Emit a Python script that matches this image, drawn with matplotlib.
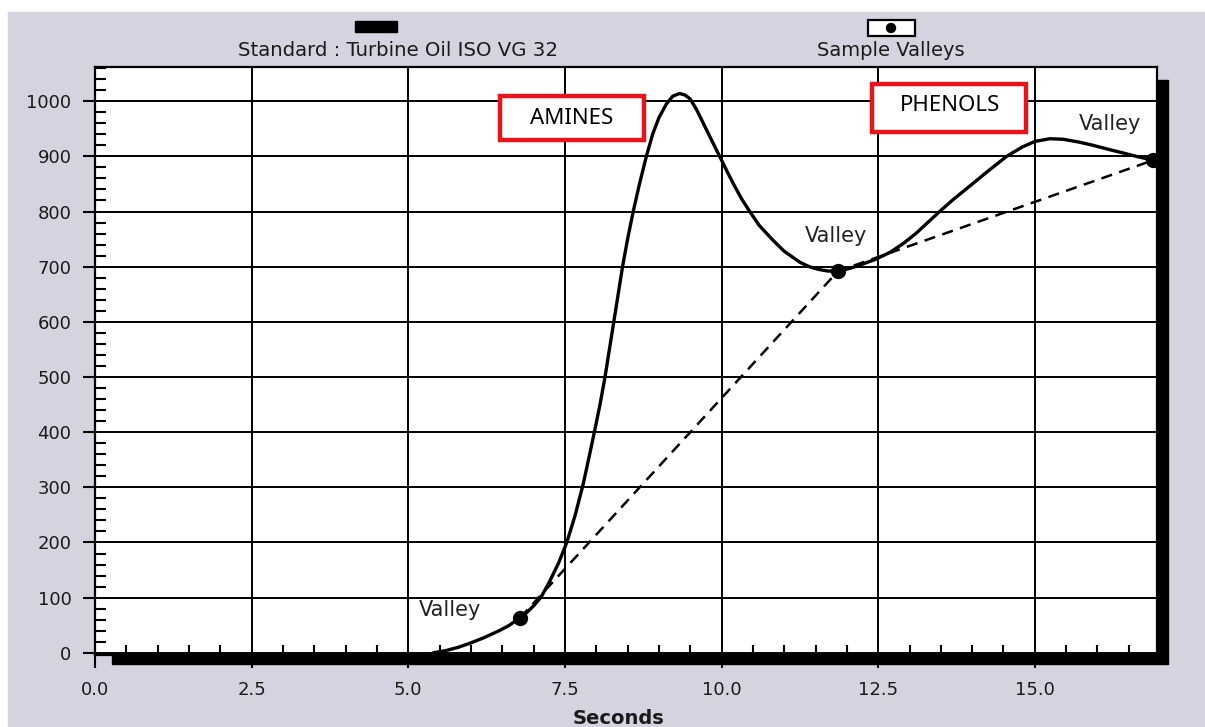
import numpy as np
import matplotlib
matplotlib.use("Agg")
import matplotlib.pyplot as plt
from matplotlib.patches import Rectangle, Ellipse
from matplotlib.ticker import MultipleLocator, FormatStrFormatter

# ---- data ----
seconds = [5.40, 5.60, 5.80, 6.00, 6.20, 6.45, 6.60, 6.78, 6.90, 7.00,
           7.12, 7.25, 7.40, 7.53, 7.66, 7.79, 7.88, 7.97, 8.06, 8.14,
           8.21, 8.28, 8.35, 8.42, 8.50, 8.59, 8.69, 8.80, 8.90, 9.00,
           9.12, 9.22, 9.33, 9.42, 9.50, 9.60, 9.70, 9.83, 9.97, 10.10,
           10.20, 10.32, 10.45, 10.60, 10.82, 11.00, 11.25, 11.40, 11.55, 11.70,
           11.86, 12.05, 12.21, 12.45, 12.69, 12.90, 13.10, 13.30, 13.48, 13.70,
           13.96, 14.25, 14.55, 14.80, 15.00, 15.24, 15.45, 15.70, 15.93, 16.20,
           16.45, 16.62, 16.89]
response = [0, 4, 10, 18, 27, 40, 49, 63, 74, 85,
            101, 128, 163, 200, 248, 305, 352, 400, 450, 500,
            550, 600, 650, 700, 750, 800, 850, 900, 940, 970,
            995, 1009, 1014, 1011, 1004, 985, 962, 932, 900, 870,
            848, 823, 800, 775, 748, 728, 708, 700, 695, 692,
            692, 697, 703, 713, 726, 742, 760, 781, 800, 822,
            846, 873, 900, 917, 927, 932, 931, 926, 920, 912,
            905, 900, 893]

valley_sec = [6.78, 11.86, 16.89]
valley_val = [63, 692, 893]
valley_labels = ["Valley", "Valley", "Valley"]
valley_label_pos = [(5.67, 78), (11.83, 755), (16.2, 958)]

legend_labels = ["Standard : Turbine Oil ISO VG 32", "Sample Valleys"]
x_label = "Seconds"

# red annotation boxes: (text, x0, x1, y0, y1, text x, text y)
boxes = [("AMINES", 6.46, 8.76, 929, 1009, 7.61, 969),
         ("PHENOLS", 12.40, 14.86, 945, 1031, 13.64, 992)]

# ---- figure layout (pixel helpers) ----
W, H = 1205, 727
fig = plt.figure(figsize=(W / 100, H / 100), dpi=100, facecolor="white")


def fx(px):
    return px / W


def fy(py):
    return 1 - py / H


# page background and frame shadow
fig.add_artist(Rectangle((fx(8), 0), 1 - fx(8), fy(12), transform=fig.transFigure,
                         color="#d3d4df", zorder=-3))
fig.add_artist(Rectangle((fx(112), fy(664)), fx(1168) - fx(112), fy(80) - fy(664),
                         transform=fig.transFigure, color="black", zorder=-2))

ax = fig.add_axes([fx(95), fy(655), fx(1157) - fx(95), fy(67) - fy(655)])
ax.set_facecolor("white")
ax.set_xlim(0, 16.95)
ax.set_ylim(-4, 1062)

ax.xaxis.set_major_locator(MultipleLocator(2.5))
ax.xaxis.set_minor_locator(MultipleLocator(0.5))
ax.yaxis.set_major_locator(MultipleLocator(100))
ax.yaxis.set_minor_locator(MultipleLocator(20))
ax.xaxis.set_major_formatter(FormatStrFormatter("%.1f"))

ax.grid(which="major", color="black", lw=1.4)
ax.set_axisbelow(True)
for s in ax.spines.values():
    s.set_color("black")
    s.set_linewidth(1.6)

ax.tick_params(which="major", direction="out", length=9, width=1.5,
               color="black", labelcolor="#1a1a1a", labelsize=13)
ax.tick_params(axis="x", which="major", pad=10)
ax.tick_params(axis="y", which="major", pad=8)
ax.tick_params(axis="x", which="minor", direction="in", length=7, width=1.5,
               top=False, color="black")
ax.tick_params(axis="y", which="minor", direction="in", length=8, width=1.5,
               right=False, color="black")

# valley baseline segments and the sample curve
ax.plot(valley_sec, valley_val, color="black", lw=1.8, ls=(0, (4.5, 3)), zorder=3)
ax.plot(seconds, response, color="black", lw=2.4, solid_joinstyle="round",
        solid_capstyle="round", zorder=4)
ax.plot(valley_sec, valley_val, "o", color="black", ms=10, zorder=5, clip_on=False)

for lab, (lx, ly) in zip(valley_labels, valley_label_pos):
    ax.text(lx, ly, lab, ha="center", va="center", fontsize=15, color="#222222")

for txt, x0, x1, y0, y1, tx, ty in boxes:
    ax.add_patch(Rectangle((x0, y0), x1 - x0, y1 - y0, facecolor="white",
                           edgecolor="#e8141b", lw=3.2, zorder=6))
    ax.text(tx, ty, txt, ha="center", va="center", fontsize=16,
            family="Noto Sans", color="black", zorder=7)

# legend drawn above the plot
fig.add_artist(Rectangle((fx(355), fy(32)), fx(397) - fx(355), fy(21) - fy(32),
                         transform=fig.transFigure, color="black"))
fig.text(fx(398), fy(50), legend_labels[0], ha="center", va="center",
         fontsize=14.2, color="#1a1a1a")
fig.add_artist(Rectangle((fx(868), fy(36)), fx(915) - fx(868), fy(20) - fy(36),
                         transform=fig.transFigure, facecolor="white",
                         edgecolor="black", lw=1.6))
fig.add_artist(Ellipse((fx(891), fy(28)), 9 / W, 9 / H, transform=fig.transFigure,
                       color="black"))
fig.text(fx(891), fy(50), legend_labels[1], ha="center", va="center",
         fontsize=14, color="#1a1a1a")

fig.text(fx(618), fy(718), x_label, ha="center", va="center", fontsize=14,
         fontweight="bold", color="#1a1a1a")

fig.savefig("out.png", dpi=100)
